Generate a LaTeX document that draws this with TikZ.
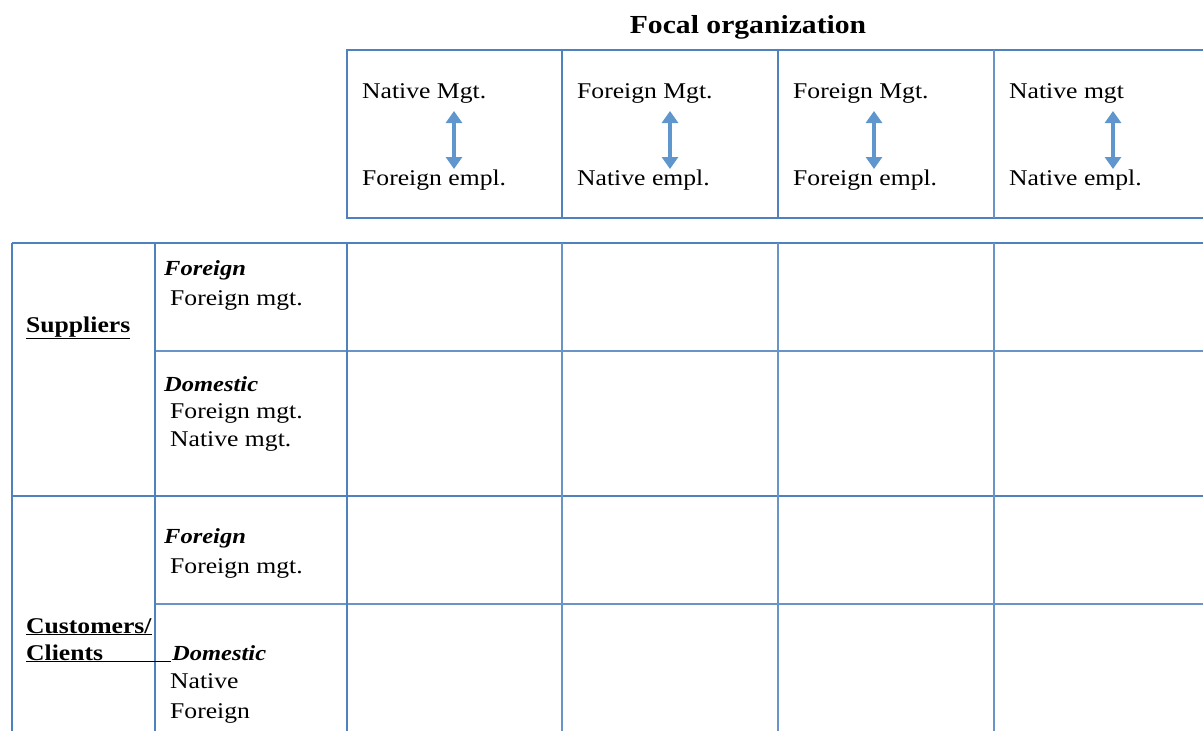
\documentclass[tikz,border=0pt]{standalone}
\usepackage{fontspec}
\setmainfont[FakeStretch=1.14]{Liberation Serif}
\usetikzlibrary{arrows.meta}
\definecolor{rulecol}{RGB}{79,129,189}
\definecolor{arrowcol}{RGB}{96,150,206}

\newcommand\setcoordinates{
  \path (347,50) coordinate (H1) (562,50) coordinate (H2)
    (778,50) coordinate (H3) (994,50) coordinate (H4);
}

\begin{document}
\begin{tikzpicture}[
    x=1pt, y=-1pt,
    font=\fontsize{22.5}{26}\selectfont,
    frame/.style={rulecol, line width=2.2pt},
    thin/.style={rulecol!85, line width=1.2pt},
    txt/.style={anchor=base west, inner sep=0pt},
    head/.style={txt, font=\fontsize{26}{30}\selectfont\bfseries},
    label/.style={txt, font=\fontsize{22.5}{26}\selectfont\bfseries},
    kind/.style={txt, font=\fontsize{21.5}{25}\selectfont\bfseries\itshape},
    link/.style={arrowcol, line width=4.5pt,
      {Triangle[width=16pt,length=12pt]}-{Triangle[width=16pt,length=12pt]}}
  ]
    \clip (0,0) rectangle (1203,731);
    \setcoordinates

    \node[head, anchor=base] (focal) at (748,33) {Focal organization};

    \draw[frame] (H1) rectangle (1230,218);
    \draw[frame] (H2) -- (562,218);
    \draw[frame] (H3) -- (778,218);
    \draw[thin] (H4) -- (994,218);

    \node[txt] (m1) at (362,98) {Native Mgt.};
    \node[txt] (e1) at (362,185) {Foreign empl.};
    \node[txt] (m2) at (577,98) {Foreign Mgt.};
    \node[txt] (e2) at (577,185) {Native empl.};
    \node[txt] (m3) at (793,98) {Foreign Mgt.};
    \node[txt] (e3) at (793,185) {Foreign empl.};
    \node[txt] (m4) at (1009,98) {Native mgt};
    \node[txt] (e4) at (1009,185) {Native empl.};

    \path (454,111) coordinate (a1t) (454,169) coordinate (a1b)
      (670,111) coordinate (a2t) (670,169) coordinate (a2b)
      (874,111) coordinate (a3t) (874,169) coordinate (a3b)
      (1113,111) coordinate (a4t) (1113,169) coordinate (a4b);
    \draw[link] (a1t) -- (a1b);
    \draw[link] (a2t) -- (a2b);
    \draw[link] (a3t) -- (a3b);
    \draw[link] (a4t) -- (a4b);

    \draw[frame] (12,243) -- (1203,243);
    \draw[frame] (12,496) -- (1203,496);
    \draw[thin] (155,351) -- (1203,351);
    \draw[thin] (155,604) -- (1203,604);
    \draw[frame] (12,243) -- (12,731);
    \draw[frame] (155,243) -- (155,731);
    \draw[frame] (347,243) -- (347,731);
    \draw[thin] (562,243) -- (562,731);
    \draw[thin] (778,243) -- (778,731);
    \draw[thin] (994,243) -- (994,731);

    \node[label] (sup) at (26,332) {\underline{Suppliers}};
    \node[kind] (sf) at (164,275) {Foreign};
    \node[txt] (sfm) at (170,305) {Foreign mgt.};
    \node[kind] (sd) at (164,391) {Domestic};
    \node[txt] (sdf) at (170,418) {Foreign mgt.};
    \node[txt] (sdn) at (170,446) {Native mgt.};

    \node[label] (cus) at (26,633) {\underline{Customers/}};
    \node[label] (cli) at (26,660) {\underline{Clients\makebox[68pt]{}}};
    \node[kind] (cf) at (164,543) {Foreign};
    \node[txt] (cfm) at (170,573) {Foreign mgt.};
    \node[kind] (cd) at (172,660) {Domestic};
    \node[txt] (cdn) at (170,688) {Native};
    \node[txt] (cdf) at (170,718) {Foreign};
\end{tikzpicture}
\end{document}
